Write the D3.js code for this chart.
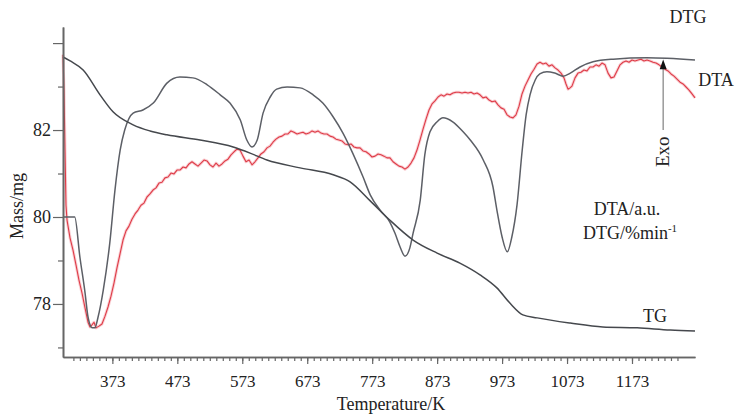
<!DOCTYPE html>
<html><head><meta charset="utf-8">
<script src="https://cdn.jsdelivr.net/npm/d3@7"></script>
<style>
body{margin:0;background:#fff}
svg{display:block;font-family:"Liberation Serif","Times New Roman",serif}
</style>
</head><body>
<svg id="c" width="739" height="414"></svg>
<script>
// TG curve (Mass/mg vs Temperature/K)
const tgTemp=[297,308,328,354,374,405,431,457,508,559,585,611,662,713,739,770,800,836,873,908,939,965,985,1005,1027,1078,1128,1181,1232,1270];
const tgMass=[83.68,83.59,83.38,82.81,82.42,82.12,81.98,81.89,81.77,81.61,81.47,81.31,81.13,80.97,80.81,80.37,79.93,79.47,79.17,78.94,78.67,78.37,78.02,77.75,77.68,77.56,77.47,77.45,77.40,77.38];

// DTG curve (plotted on the mass scale)
const dtgTemp=[297,315,323,331,335.5,342,346,351,359,369,377,385,392,405,420,436,457,477,497,519,539,554,570,580,588,596,605,616,626,642,662,682,697,713,728,743,759,770,785,800,808,816,823.5,831,836,847,854,862,873,882,897,913,924,944,959,965,973,981,988,996,1004,1010,1016,1024,1031,1042,1054,1067,1078,1093,1113,1144,1196,1270];
const dtgVal=[80.00,80.00,79.08,78.25,77.70,77.45,77.45,77.70,78.32,79.40,80.62,81.54,82.00,82.39,82.46,82.62,83.08,83.22,83.20,83.04,82.81,82.62,82.23,81.77,81.61,81.77,82.39,82.76,82.94,82.99,82.97,82.81,82.62,82.30,81.93,81.47,80.92,80.51,80.16,79.89,79.63,79.31,79.10,79.29,79.63,80.39,81.43,81.96,82.19,82.28,82.19,81.96,81.77,81.31,80.69,80.16,79.54,79.20,79.54,80.28,81.54,82.35,82.81,83.15,83.29,83.34,83.31,83.24,83.31,83.45,83.57,83.63,83.66,83.61];

// DTA curve (noisy, plotted on the mass scale)
const dtaTemp=[297.0,298.5,300.1,301.6,303.2,307.8,312.4,317.0,321.6,326.3,330.9,335.5,338.6,341.6,344.7,347.8,352.4,357.0,361.7,366.3,370.9,375.5,380.1,384.8,389.4,394.0,398.6,403.2,407.9,412.5,417.1,421.7,426.3,430.9,435.6,440.2,444.8,449.4,454.0,458.7,463.3,467.9,472.5,477.1,481.8,486.4,491.0,495.6,500.2,504.8,509.5,514.1,518.7,523.3,527.9,532.6,537.2,541.8,546.4,551.0,555.7,560.3,564.9,569.5,574.1,578.7,583.4,588.0,592.6,597.2,601.8,606.5,611.1,615.7,620.3,624.9,629.6,634.2,638.8,643.4,648.0,652.6,657.3,661.9,666.5,671.1,675.7,680.4,685.0,689.6,694.2,698.8,703.5,708.1,712.7,717.3,721.9,726.5,731.2,735.8,740.4,745.0,749.6,754.3,758.9,763.5,768.1,772.7,777.4,782.0,786.6,791.2,795.8,800.4,805.1,809.7,814.3,818.9,823.5,828.2,832.8,837.4,842.0,846.6,851.3,855.9,860.5,865.1,869.7,874.4,879.0,883.6,888.2,892.8,897.4,902.1,906.7,911.3,915.9,920.5,925.2,929.8,934.4,939.0,943.6,948.3,952.9,957.5,962.1,966.7,971.3,976.0,980.6,985.2,989.8,994.4,999.1,1003.7,1008.3,1012.9,1017.5,1022.2,1026.8,1031.4,1036.0,1040.6,1045.2,1049.9,1054.5,1059.1,1063.7,1068.3,1071.4,1074.5,1077.6,1080.6,1085.3,1089.9,1094.5,1099.1,1103.7,1108.4,1113.0,1117.6,1122.2,1126.8,1131.5,1136.1,1140.7,1145.3,1149.9,1154.6,1159.2,1163.8,1168.4,1173.0,1177.6,1182.3,1186.9,1191.5,1196.1,1200.7,1205.4,1210.0,1214.6,1219.2,1223.8,1228.5,1233.1,1237.7,1242.3,1247.0,1251.6,1256.2,1260.8,1265.4,1270.0];
const dtaVal=[83.73,82.92,81.54,80.27,79.93,79.52,79.24,78.90,78.55,78.25,77.91,77.58,77.47,77.52,77.58,77.45,77.49,77.54,77.72,77.93,78.18,78.48,78.83,79.15,79.47,79.68,79.79,79.95,80.07,80.16,80.27,80.32,80.46,80.53,80.62,80.67,80.78,80.80,80.90,80.92,81.01,80.99,81.08,81.08,81.15,81.13,81.22,81.27,81.22,81.17,81.24,81.31,81.29,81.20,81.15,81.24,81.17,81.22,81.29,81.33,81.43,81.50,81.56,81.54,81.40,81.27,81.31,81.20,81.27,81.36,81.45,81.50,81.59,81.63,81.72,81.79,81.84,81.86,81.91,81.91,81.98,81.95,81.91,81.93,81.95,81.91,81.93,81.98,81.95,81.98,81.93,81.91,81.91,81.86,81.84,81.79,81.77,81.75,81.68,81.66,81.68,81.61,81.59,81.59,81.52,81.50,81.45,81.38,81.40,81.45,81.43,81.40,81.36,81.36,81.27,81.22,81.17,81.15,81.10,81.15,81.24,81.36,81.54,81.77,82.02,82.25,82.46,82.60,82.67,82.76,82.81,82.78,82.83,82.81,82.85,82.87,82.87,82.85,82.87,82.85,82.87,82.83,82.85,82.81,82.74,82.76,82.69,82.65,82.67,82.58,82.51,82.48,82.35,82.30,82.28,82.35,82.55,82.83,83.01,83.15,83.29,83.40,83.52,83.56,83.52,83.54,83.47,83.50,83.43,83.38,83.31,83.20,83.06,82.94,82.97,83.01,83.20,83.31,83.33,83.38,83.36,83.45,83.45,83.50,83.47,83.54,83.50,83.31,83.20,83.22,83.36,83.50,83.56,83.59,83.56,83.61,83.59,83.61,83.63,83.59,83.61,83.59,83.56,83.54,83.50,83.45,83.40,83.36,83.29,83.24,83.17,83.10,83.06,82.99,82.92,82.83,82.74];

// Axis ticks
const xTickLabels=[373,473,573,673,773,873,973,1073,1173];
const yMajorTicks=[78,80,82,84];
const yTickLabels=[78,80,82];
const yMinorTicks=[77,79,81,83];

const svg=d3.select("#c");
const x=d3.scaleLinear().domain([297,1270]).range([63,695]);
const y=d3.scaleLinear().domain([76.78,84.37]).range([357,27]);

const mk=(T,V)=>T.map((t,i)=>[t,V[i]]);
const smooth=d3.line().x(d=>x(d[0])).y(d=>y(d[1])).curve(d3.curveMonotoneX);
const lin=d3.line().x(d=>x(d[0])).y(d=>y(d[1]));

// DTA (red, with soft halo)
svg.append("path").attr("d",lin(mk(dtaTemp,dtaVal))).attr("fill","none")
  .attr("stroke","#f4a9b0").attr("stroke-width",3).attr("stroke-opacity",0.55).attr("stroke-linejoin","round");
svg.append("path").attr("d",lin(mk(dtaTemp,dtaVal))).attr("fill","none")
  .attr("stroke","#de3b47").attr("stroke-width",1.1).attr("stroke-linejoin","round");

// DTG
svg.append("path").attr("d",smooth(mk(dtgTemp,dtgVal))).attr("fill","none")
  .attr("stroke","#5c5f66").attr("stroke-width",1.5);
// TG
svg.append("path").attr("d",smooth(mk(tgTemp,tgMass))).attr("fill","none")
  .attr("stroke","#45484d").attr("stroke-width",1.5);

// Axes
const axCol="#666";
const gx=svg.append("g").attr("transform","translate(0,357)");
gx.call(d3.axisBottom(x).tickValues(d3.range(313,1250,10)).tickSize(4).tickSizeOuter(0).tickFormat(""));
const gx2=svg.append("g").attr("transform","translate(0,357)");
gx2.call(d3.axisBottom(x).tickValues(xTickLabels).tickSize(7).tickSizeOuter(0).tickPadding(11).tickFormat(d3.format("d")));
[gx,gx2].forEach(g=>{g.selectAll("line").attr("stroke",axCol).attr("stroke-width",1.2);
  g.select(".domain").attr("stroke",axCol).attr("stroke-width",1.6);
  g.selectAll("text").attr("font-family","Liberation Serif").attr("font-size",17).attr("fill","#222");});

const gy=svg.append("g").attr("transform","translate(63,0)");
gy.call(d3.axisLeft(y).tickValues(yMinorTicks).tickSize(5).tickSizeOuter(0).tickFormat(""));
const gy2=svg.append("g").attr("transform","translate(63,0)");
gy2.call(d3.axisLeft(y).tickValues(yMajorTicks).tickSize(10).tickSizeOuter(0).tickPadding(2)
  .tickFormat(d=>yTickLabels.includes(d)?d:""));
[gy,gy2].forEach(g=>{g.selectAll("line").attr("stroke",axCol).attr("stroke-width",1.2);
  g.select(".domain").attr("stroke",axCol).attr("stroke-width",1.6);
  g.selectAll("text").attr("font-family","Liberation Serif").attr("font-size",18).attr("fill","#222");});

// Axis titles
svg.append("text").attr("x",391).attr("y",410).attr("text-anchor","middle")
  .attr("font-size",18).attr("fill","#222").text("Temperature/K");
svg.append("text").attr("transform","translate(23,206) rotate(-90)").attr("text-anchor","middle")
  .attr("font-size",18).attr("fill","#222").text("Mass/mg");

// Curve labels
const lab=(t,px,py)=>svg.append("text").attr("x",px).attr("y",py).attr("text-anchor","middle")
  .attr("font-size",18).attr("fill","#222").text(t);
lab("DTG",688,23);
lab("DTA",716,86);
lab("TG",655,322);
lab("DTA/a.u.",627,215);
const t2=svg.append("text").attr("x",630).attr("y",239).attr("text-anchor","middle")
  .attr("font-size",18).attr("fill","#222");
t2.append("tspan").text("DTG/%min");
t2.append("tspan").attr("font-size",11).attr("dy",-7).text("-1");

// Exo arrow
const ax=x(1221);
svg.append("line").attr("x1",ax).attr("x2",ax).attr("y1",y(82.0)).attr("y2",y(83.45))
  .attr("stroke","#8a8a8a").attr("stroke-width",1.3);
svg.append("path").attr("d",`M${ax},${y(83.62)} L${ax-3.5},${y(83.40)} L${ax+3.5},${y(83.40)} Z`).attr("fill","#111");
svg.append("text").attr("transform",`translate(${ax+6},${y(81.5)}) rotate(-90)`).attr("text-anchor","middle")
  .attr("font-size",19).attr("fill","#222").text("Exo");
</script>
</body></html>
